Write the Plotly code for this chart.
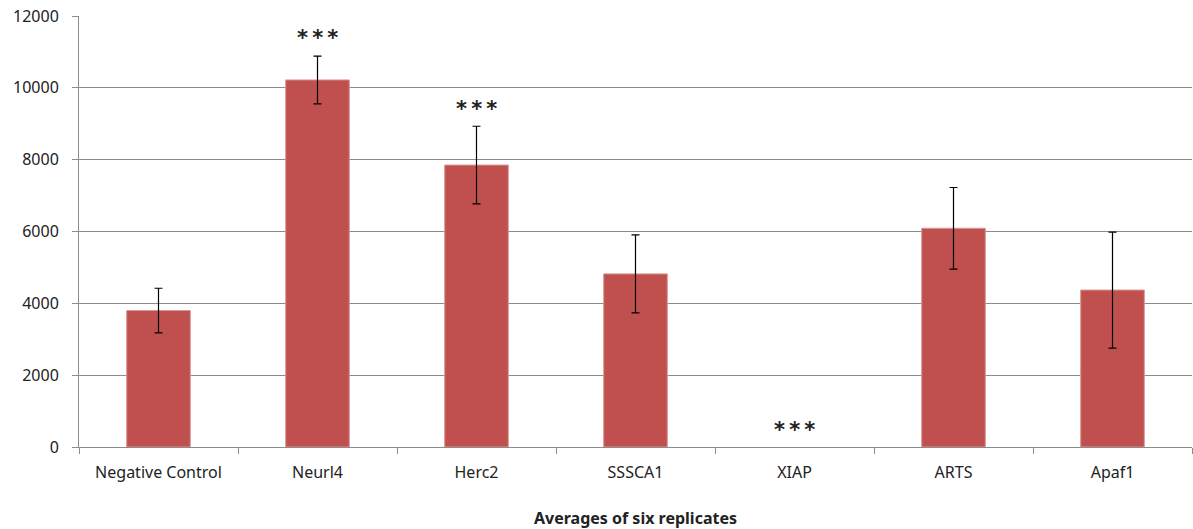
import plotly.graph_objects as go

categories = ["Negative Control", "Neurl4", "Herc2", "SSSCA1", "XIAP", "ARTS", "Apaf1"]
means = [3800, 10220, 7850, 4820, 0, 6090, 4370]
errors = [620, 665, 1080, 1085, 0, 1135, 1615]
sig_labels = ["", "***", "***", "", "***", "", ""]
sig_y = [None, 11390, 9410, None, 470, None, None]

font_family = "Noto Sans, Liberation Sans, Arial, sans-serif"

fig = go.Figure()
fig.add_trace(go.Bar(
    x=categories, y=means,
    marker=dict(color="#C0504D",
                line=dict(color="#D99694", width=[0 if v == 0 else 1 for v in means])),
    width=0.4,
    showlegend=False,
    hoverinfo="x+y",
))

# error bars only where there is a visible error
eb_x = [c for c, e in zip(categories, errors) if e > 0]
eb_y = [m for m, e in zip(means, errors) if e > 0]
eb_e = [e for e in errors if e > 0]
fig.add_trace(go.Scatter(
    x=eb_x, y=eb_y, mode="markers",
    marker=dict(size=1, opacity=0),
    error_y=dict(type="data", array=eb_e, visible=True, color="black", thickness=1.2, width=4),
    showlegend=False, hoverinfo="skip",
))

for c, s, yv in zip(categories, sig_labels, sig_y):
    if s:
        fig.add_annotation(x=c, y=yv, xref="x", yref="y", text="*\u2009*\u2009*", showarrow=False,
                           font=dict(family="DejaVu Sans", size=21, color="#222", weight="bold"),
                           yanchor="middle")

fig.update_layout(
    width=1193, height=529,
    margin=dict(l=79, r=1, t=16, b=82, autoexpand=False),
    plot_bgcolor="white", paper_bgcolor="white",
    font=dict(family=font_family, size=16, color="#222"),
    bargap=0.6,
)
fig.update_xaxes(
    type="category", automargin=False,
    showline=True, linecolor="#8c8c8c", linewidth=1,
    ticks="outside", tickson="boundaries", ticklen=6, tickcolor="#8c8c8c",
    showgrid=False,
    tickfont=dict(size=16),
    ticklabelstandoff=11,
    title=dict(text="<b>Averages of six replicates</b>", font=dict(size=16, family=font_family), standoff=38),
)
fig.update_yaxes(
    range=[0, 12000], dtick=2000, tickformat="d", automargin=False,
    showline=True, linecolor="#8c8c8c", linewidth=1,
    showgrid=True, gridcolor="#8c8c8c", gridwidth=1,
    ticks="outside", ticklen=6, tickcolor="#8c8c8c",
    tickfont=dict(size=16),
    ticklabelstandoff=10, ticklabeloverflow="allow",
    zeroline=False,
)

fig.write_html("out.html", config={"displayModeBar": False},
               post_script="document.body.style.margin='0';")
